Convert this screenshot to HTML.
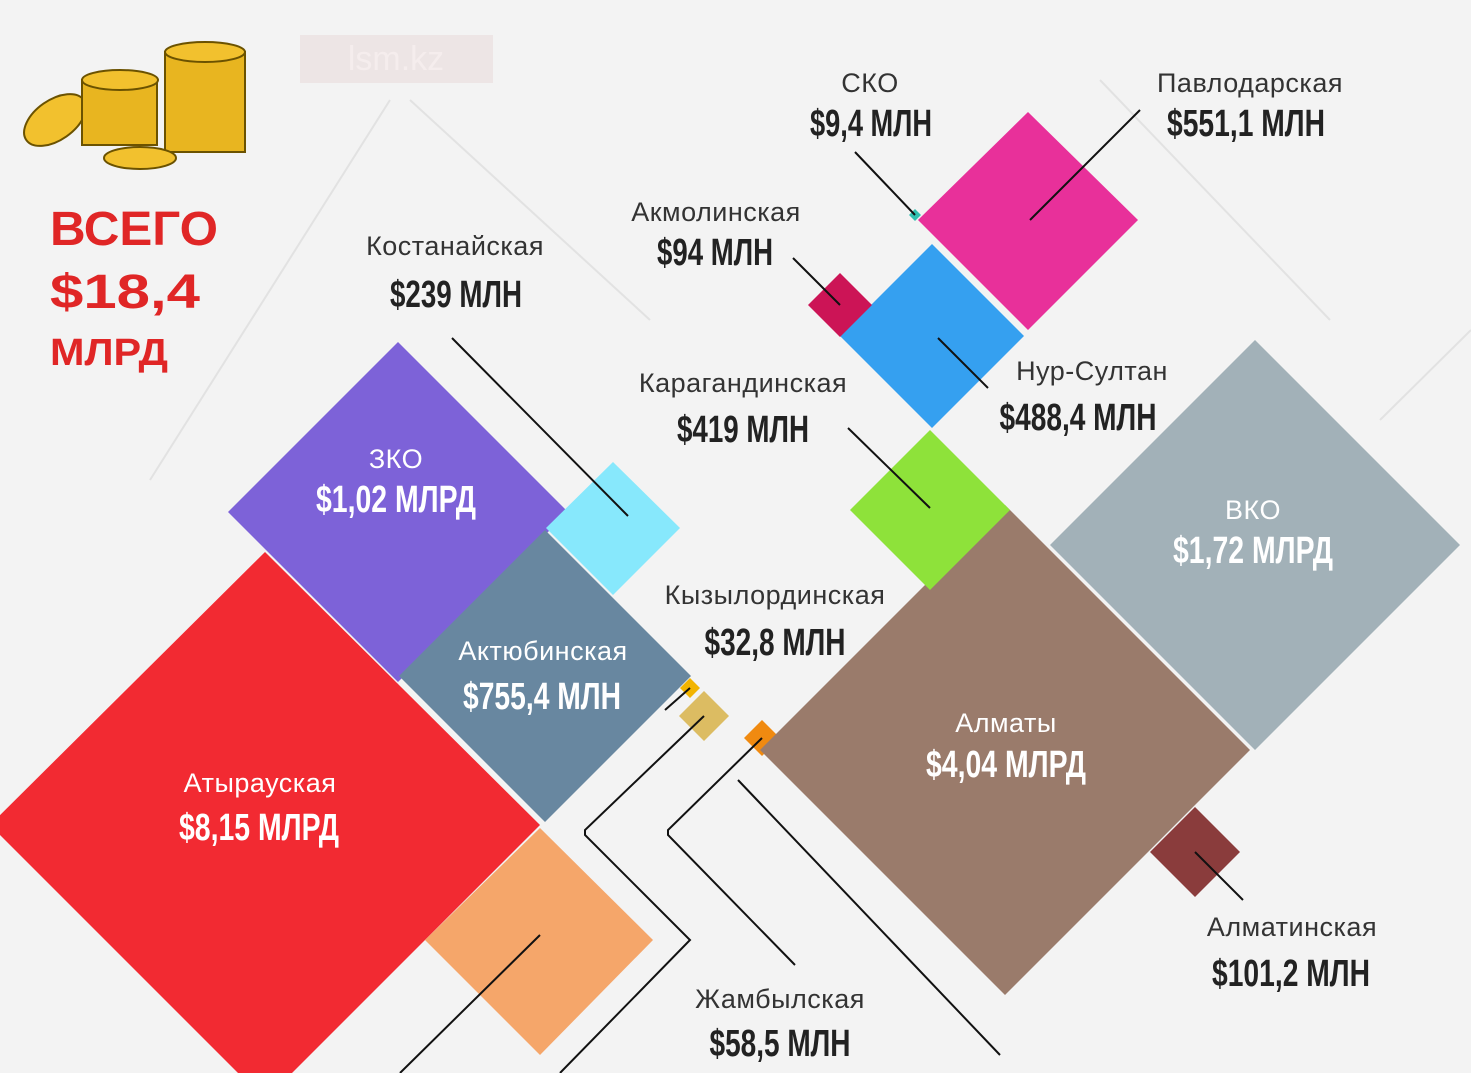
<!DOCTYPE html>
<html><head><meta charset="utf-8"><style>
html,body{margin:0;padding:0;background:#f3f3f3}
svg{display:block}
.l{font-family:"Liberation Sans",sans-serif;font-size:27px;fill:#333;text-anchor:middle;letter-spacing:0.5px}
.v{font-family:"Liberation Sans",sans-serif;font-weight:bold;font-size:38px;fill:#222;text-anchor:middle}
.w{fill:#fff}
.ln{stroke:#111;stroke-width:2;fill:none}
</style></head><body>
<svg width="1471" height="1073" viewBox="0 0 1471 1073">
<rect width="1471" height="1073" fill="#f3f3f3"/>
<g stroke="#e2e2e2" stroke-width="2" fill="none">
<path d="M150 480 L390 100 M410 100 L650 320 M1100 80 L1330 320 M1380 420 L1471 330"/>
</g>
<rect x="300" y="35" width="193" height="48" fill="#eadcdc" opacity="0.6"/>
<text x="396" y="70" font-family="Liberation Sans" font-size="34" fill="#f5eded" text-anchor="middle">lsm.kz</text>
<g stroke="#6b5200" stroke-width="2" fill="#f2c12e">
<ellipse cx="55" cy="120" rx="35" ry="20" transform="rotate(-35 55 120)"/>
<rect x="82" y="80" width="75" height="65" fill="#e8b520"/>
<ellipse cx="120" cy="80" rx="38" ry="10"/>
<rect x="165" y="52" width="80" height="100" fill="#e8b520"/>
<ellipse cx="205" cy="52" rx="40" ry="10"/>
<ellipse cx="140" cy="158" rx="36" ry="11"/>
</g>
<text x="50" y="245" font-family="Liberation Sans" font-weight="bold" font-size="48" fill="#e02626" textLength="168" lengthAdjust="spacingAndGlyphs">ВСЕГО</text>
<text x="50" y="308" font-family="Liberation Sans" font-weight="bold" font-size="48" fill="#e02626" textLength="150" lengthAdjust="spacingAndGlyphs">$18,4</text>
<text x="50" y="365" font-family="Liberation Sans" font-weight="bold" font-size="38" fill="#e02626" textLength="118" lengthAdjust="spacingAndGlyphs">МЛРД</text>
<g>
<polygon points="265,552 540,825 265,1100 -10,825" fill="#f22a32"/>
<polygon points="540,828 653,940 540,1055 425,940" fill="#f5a66a"/>
<polygon points="398,342 568,512 398,682 228,512" fill="#7d62d8"/>
<polygon points="613,462 680,528 613,595 546,528" fill="#87e8fc"/>
<polygon points="545,530 691,676 545,822 399,676" fill="#6887a0"/>
<polygon points="704,691 729,716 704,741 679,716" fill="#dcbc62"/>
<polygon points="690,678 700,688 690,698 680,688" fill="#f2b400"/>
<polygon points="762,720 780,738 762,756 744,738" fill="#f08a10"/>
<polygon points="1255,340 1460,545 1255,750 1050,545" fill="#a2b1b8"/>
<polygon points="1005,505 1250,750 1005,995 760,750" fill="#9a7b6b"/>
<polygon points="930,430 1010,510 930,590 850,510" fill="#8ee23a"/>
<polygon points="932,244 1024,336 932,428 840,336" fill="#35a0f0"/>
<polygon points="1028,112 1138,220 1028,330 918,220" fill="#e8309a"/>
<polygon points="840,273 872,305 840,337 808,305" fill="#cc1456"/>
<polygon points="915,209 921,215 915,221 909,215" fill="#30c0b0"/>
<polygon points="1195,807 1240,852 1195,897 1150,852" fill="#8a3c3c"/>
</g>
<path class="ln" d="M855 152 L915 215 M1030 220 L1140 110 M793 258 L840 305 M938 338 L988 388 M848 428 L930 508 M452 338 L628 516 M1195 852 L1243 900"/>
<path class="ln" d="M540 935 L400 1073 M690 688 L665 710"/>
<path class="ln" d="M704 716 L585 830 L585 835 L690 940 L560 1073"/>
<path class="ln" d="M762 738 L668 830 L668 835 L795 965"/>
<path class="ln" d="M738 780 L1000 1055"/>
<g>
<text class="l" x="870" y="92">СКО</text><text class="v" x="871" y="136" textLength="122" lengthAdjust="spacingAndGlyphs">$9,4 МЛН</text>
<text class="l" x="1250" y="92">Павлодарская</text><text class="v" x="1246" y="136" textLength="158" lengthAdjust="spacingAndGlyphs">$551,1 МЛН</text>
<text class="l" x="716" y="221">Акмолинская</text><text class="v" x="715" y="265" textLength="116" lengthAdjust="spacingAndGlyphs">$94 МЛН</text>
<text class="l" x="455" y="255">Костанайская</text><text class="v" x="456" y="307" textLength="132" lengthAdjust="spacingAndGlyphs">$239 МЛН</text>
<text class="l" x="1092" y="380">Нур-Султан</text><text class="v" x="1078" y="430" textLength="157" lengthAdjust="spacingAndGlyphs">$488,4 МЛН</text>
<text class="l" x="743" y="392">Карагандинская</text><text class="v" x="743" y="442" textLength="132" lengthAdjust="spacingAndGlyphs">$419 МЛН</text>
<text class="l w" x="396" y="468">ЗКО</text><text class="v w" x="396" y="512" textLength="160" lengthAdjust="spacingAndGlyphs">$1,02 МЛРД</text>
<text class="l w" x="1253" y="519">ВКО</text><text class="v w" x="1253" y="563" textLength="160" lengthAdjust="spacingAndGlyphs">$1,72 МЛРД</text>
<text class="l" x="775" y="604">Кызылординская</text><text class="v" x="775" y="655" textLength="141" lengthAdjust="spacingAndGlyphs">$32,8 МЛН</text>
<text class="l w" x="543" y="660">Актюбинская</text><text class="v w" x="542" y="709" textLength="158" lengthAdjust="spacingAndGlyphs">$755,4 МЛН</text>
<text class="l w" x="1006" y="732">Алматы</text><text class="v w" x="1006" y="777" textLength="160" lengthAdjust="spacingAndGlyphs">$4,04 МЛРД</text>
<text class="l w" x="260" y="792">Атырауская</text><text class="v w" x="259" y="840" textLength="160" lengthAdjust="spacingAndGlyphs">$8,15 МЛРД</text>
<text class="l" x="1292" y="936">Алматинская</text><text class="v" x="1291" y="986" textLength="158" lengthAdjust="spacingAndGlyphs">$101,2 МЛН</text>
<text class="l" x="780" y="1008">Жамбылская</text><text class="v" x="780" y="1056" textLength="141" lengthAdjust="spacingAndGlyphs">$58,5 МЛН</text>
</g>
</svg>
</body></html>
